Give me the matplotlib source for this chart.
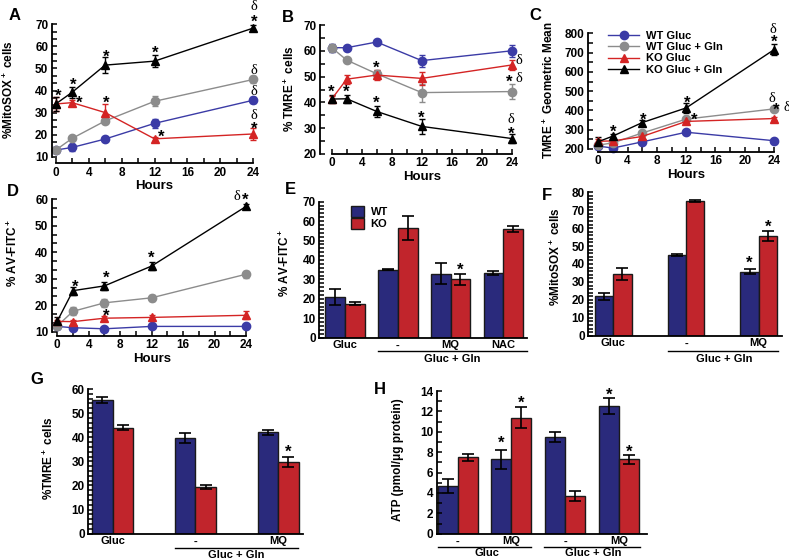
import numpy as np
import matplotlib
matplotlib.use("Agg")
import matplotlib.pyplot as plt
from matplotlib.ticker import MultipleLocator
from matplotlib.lines import Line2D

plt.rcParams['font.family'] = ['Liberation Sans', 'DejaVu Sans']
plt.rcParams['font.weight'] = 'bold'
plt.rcParams['axes.labelweight'] = 'bold'
plt.rcParams['mathtext.fontset'] = 'custom'
plt.rcParams['mathtext.rm'] = 'Liberation Sans:bold'
plt.rcParams['mathtext.bf'] = 'Liberation Sans:bold'
plt.rcParams['mathtext.default'] = 'bf'

W, H = 789, 560

# ---- data ----
hours = [0, 2, 6, 12, 24]
series = ["WT Gluc", "WT Gluc + Gln", "KO Gluc", "KO Gluc + Gln"]

# A: %MitoSOX+ cells
a_wt_gluc = [13.0, 14.2, 18.0, 25.1, 35.6]
a_wt_gluc_err = [0.8, 1.5, 1.0, 2.0, 1.3]
a_wt_gln = [13.0, 18.3, 26.2, 35.1, 45.0]
a_wt_gln_err = [0.6, 0.8, 1.0, 2.2, 1.5]
a_ko_gluc = [33.9, 34.5, 30.0, 18.1, 20.3]
a_ko_gluc_err = [3.0, 1.0, 4.0, 0.8, 2.7]
a_ko_gln = [33.9, 39.2, 51.5, 53.3, 68.3]
a_ko_gln_err = [3.0, 2.5, 3.5, 2.6, 1.4]

# B: % TMRE+ cells
b_wt_gluc = [61.2, 61.2, 63.4, 56.2, 60.0]
b_wt_gluc_err = [1.5, 0.8, 0.9, 2.3, 2.3]
b_wt_gln = [61.2, 56.4, 51.1, 43.8, 44.2]
b_wt_gln_err = [1.5, 0.8, 1.5, 3.5, 3.0]
b_ko_gluc = [41.3, 49.0, 50.6, 49.3, 54.5]
b_ko_gluc_err = [1.0, 1.8, 2.0, 2.5, 2.0]
b_ko_gln = [41.3, 41.4, 36.5, 30.7, 26.0]
b_ko_gln_err = [1.5, 1.5, 2.0, 3.0, 1.6]

# C: TMRE+ geometric mean
c_wt_gluc = [215, 205, 237, 287, 243]
c_wt_gluc_err = [8, 5, 8, 8, 10]
c_wt_gln = [220, 232, 283, 355, 408]
c_wt_gln_err = [8, 5, 8, 8, 8]
c_ko_gluc = [240, 242, 265, 343, 358]
c_ko_gluc_err = [10, 10, 12, 10, 10]
c_ko_gln = [238, 267, 337, 413, 715]
c_ko_gln_err = [25, 10, 15, 25, 30]

# D: % AV-FITC+
d_wt_gluc = [12.0, 11.5, 11.1, 12.0, 12.0]
d_wt_gluc_err = [0.8, 0.8, 0.6, 0.6, 0.6]
d_wt_gln = [12.2, 17.7, 20.9, 22.8, 31.7]
d_wt_gln_err = [1.0, 1.5, 1.5, 1.2, 1.3]
d_ko_gluc = [13.9, 13.8, 15.1, 15.4, 16.2]
d_ko_gluc_err = [0.5, 0.8, 0.8, 1.0, 1.5]
d_ko_gln = [14.0, 25.5, 27.3, 34.8, 57.3]
d_ko_gln_err = [1.5, 1.5, 1.6, 1.5, 0.8]

# E: % AV-FITC+ bars
e_labels = ["Gluc", "-", "MQ", "NAC"]
e_wt = [21.0, 35.0, 33.0, 33.3]
e_wt_err = [4.3, 0.4, 5.3, 1.0]
e_ko = [17.5, 56.5, 30.0, 56.0]
e_ko_err = [0.8, 6.0, 2.7, 1.4]

# F: %MitoSOX+ bars
f_labels = ["Gluc", "-", "MQ"]
f_wt = [22.0, 45.0, 35.7]
f_wt_err = [2.0, 0.7, 1.5]
f_ko = [34.5, 75.0, 55.5]
f_ko_err = [3.5, 0.5, 2.8]

# G: %TMRE+ bars
g_labels = ["Gluc", "-", "MQ"]
g_wt = [55.3, 39.8, 42.0]
g_wt_err = [1.2, 2.0, 1.1]
g_ko = [44.0, 19.5, 29.7]
g_ko_err = [1.2, 0.9, 2.0]

# H: ATP bars
h_labels = ["-", "MQ", "-", "MQ"]
h_wt = [4.7, 7.3, 9.5, 12.5]
h_wt_err = [0.7, 0.95, 0.5, 0.8]
h_ko = [7.5, 11.4, 3.7, 7.3]
h_ko_err = [0.35, 1.0, 0.5, 0.45]

line_colors = ["#3b3ba6", "#8c8c8c", "#d42424", "#000000"]
line_markers = ["o", "o", "^", "^"]
navy = "#2a2a7c"
red = "#c1252c"

TICK_FS = 8.5
LAB_FS = 8.5

fig = plt.figure(figsize=(W / 100, H / 100), dpi=100)


def panel(l, t, r, b):
    return fig.add_axes([l / W, 1 - b / H, (r - l) / W, (b - t) / H])


def ftext(px, py, s, **kw):
    fig.text(px / W, 1 - py / H, s, **kw)


def fline(x0, x1, py):
    fig.add_artist(Line2D([x0 / W, x1 / W], [1 - py / H, 1 - py / H],
                          transform=fig.transFigure, color="k", lw=1))


def ylab(ax, s, px, py):
    # px is where the centre of the rotated label should sit
    ax.set_ylabel(s, fontsize=LAB_FS)
    ax.yaxis.set_label_coords((px + 6) / W, 1 - py / H, transform=fig.transFigure)


def star(ax, x, y, fs=12):
    ax.annotate("*", (x, y), xytext=(0, -0.58 * fs), textcoords="offset points",
                ha="center", va="baseline", fontsize=fs, fontweight="bold",
                annotation_clip=False)


def delta(ax, x, y, fs=10.5):
    ax.annotate("\u03b4", (x, y), xytext=(0, -0.37 * fs), textcoords="offset points",
                ha="center", va="baseline", fontsize=fs, family="Liberation Serif",
                fontweight="normal", annotation_clip=False)


def style_axes(ax, ymajor, yminor, left_out, bottom_out):
    for s in ["top", "right"]:
        ax.spines[s].set_visible(False)
    ax.spines["left"].set_position(("outward", left_out * 0.72))
    ax.spines["bottom"].set_position(("outward", bottom_out * 0.72))
    ax.spines["left"].set_linewidth(1.3)
    ax.spines["bottom"].set_linewidth(1.3)
    ax.yaxis.set_major_locator(MultipleLocator(ymajor))
    ax.yaxis.set_minor_locator(MultipleLocator(yminor))
    ax.tick_params(which="both", direction="in", length=3.5, width=1.1,
                   labelsize=TICK_FS, pad=2.5)


def line_panel(ax, vals, errs, ylim, ymajor, yminor, left_out, bottom_out):
    for v, e, c, m in zip(vals, errs, line_colors, line_markers):
        ax.errorbar(hours, v, yerr=e, color=c, marker=m, ms=6, mec=c, lw=1,
                    elinewidth=1, capsize=2.5, capthick=1, clip_on=False)
    ax.set_xlim(0, 24)
    ax.set_ylim(*ylim)
    style_axes(ax, ymajor, yminor, left_out, bottom_out)
    ax.xaxis.set_major_locator(MultipleLocator(4))
    ax.xaxis.set_minor_locator(MultipleLocator(2))
    ax.spines["bottom"].set_bounds(0, 24)
    ax.spines["left"].set_bounds(*ylim)
    ax.set_xlabel("Hours", fontsize=9.5, labelpad=1)
    for lab in ax.get_xticklabels() + ax.get_yticklabels():
        lab.set_fontweight("bold")


def bar_panel(ax, labels, wt, wt_err, ko, ko_err, width, xlim, ylim, ymajor, yminor):
    x = np.arange(len(wt))
    ekw = dict(elinewidth=1.2, capthick=1.2, ecolor="k")
    ax.bar(x - width / 2, wt, width, yerr=wt_err, color=navy, edgecolor="#1a1a1a",
           lw=1, capsize=4, error_kw=ekw, label="WT")
    ax.bar(x + width / 2, ko, width, yerr=ko_err, color=red, edgecolor="#1a1a1a",
           lw=1, capsize=4, error_kw=ekw, label="KO")
    ax.set_xlim(*xlim)
    ax.set_ylim(*ylim)
    style_axes(ax, ymajor, yminor, 0, 0)
    ax.set_xticks(x, labels)
    ax.tick_params(axis="x", length=0, pad=2, labelsize=8)
    for lab in ax.get_xticklabels() + ax.get_yticklabels():
        lab.set_fontweight("bold")
    return x


# ---- A ----
axA = panel(55.7, 24.3, 253.3, 156.7)
line_panel(axA, [a_wt_gluc, a_wt_gln, a_ko_gluc, a_ko_gln],
           [a_wt_gluc_err, a_wt_gln_err, a_ko_gluc_err, a_ko_gln_err],
           (10, 70), 10, 10 / 3, 4, 6.6)
ylab(axA, "%MitoSOX$^+$ cells", 10, 90)
for x, y in [(0.3, 39.9), (2.1, 44.8), (2.9, 36.5), (6.1, 57.6), (6.1, 36.5),
             (12.1, 59.1), (12.8, 21.3), (24.1, 73.2), (24.1, 24.6)]:
    star(axA, x, y)
for x, y in [(24.1, 79.0), (24.1, 50.1), (24.1, 40.2), (24.1, 29.6)]:
    delta(axA, x, y)

# ---- B ----
axB = panel(331.7, 25, 511.7, 154)
line_panel(axB, [b_wt_gluc, b_wt_gln, b_ko_gluc, b_ko_gln],
           [b_wt_gluc_err, b_wt_gln_err, b_ko_gluc_err, b_ko_gln_err],
           (20, 70), 10, 5, 11.7, 0)
ylab(axB, "% TMRE$^+$ cells", 291, 89)
for x, y in [(-0.1, 45.9), (1.9, 45.9), (5.9, 55.4), (5.9, 41.6), (11.9, 36.0),
             (23.6, 50.0), (23.9, 29.6)]:
    star(axB, x, y)
for x, y in [(25.0, 57.1), (25.0, 50.0), (23.9, 34.2)]:
    delta(axB, x, y)

# ---- C ----
axC = panel(598.3, 33.3, 774, 149)
line_panel(axC, [c_wt_gluc, c_wt_gln, c_ko_gluc, c_ko_gln],
           [c_wt_gluc_err, c_wt_gln_err, c_ko_gluc_err, c_ko_gln_err],
           (200, 800), 100, 50, 10.6, 3)
ylab(axC, "TMRE$^+$ Geometric Mean", 550, 90)
for x, y in [(2.05, 316), (6.1, 376), (12.1, 463), (13.1, 376), (24.0, 778),
             (24.3, 428)]:
    star(axC, x, y)
for x, y in [(23.7, 474), (23.9, 832), (25.75, 426)]:
    delta(axC, x, y)
handles = [Line2D([], [], color=c, marker=m, ms=6, lw=1)
           for c, m in zip(line_colors, line_markers)]
axC.legend(handles, series, loc="upper left", bbox_to_anchor=(0.03, 1.06),
           frameon=False, fontsize=8, handlelength=2.8, labelspacing=0.12,
           handletextpad=0.6, borderaxespad=0)

# ---- D ----
axD = panel(57.3, 199.3, 246, 331.7)
line_panel(axD, [d_wt_gluc, d_wt_gln, d_ko_gluc, d_ko_gln],
           [d_wt_gluc_err, d_wt_gln_err, d_ko_gluc_err, d_ko_gln_err],
           (10, 60), 10, 10 / 3, 5.6, 4)
ylab(axD, "% AV-FITC$^+$", 14, 253)
for x, y in [(2.25, 28.9), (6.2, 32.0), (6.2, 17.6), (12.0, 39.6), (23.9, 61.6)]:
    star(axD, x, y)
delta(axD, 22.8, 61.8)

# ---- E ----
axE = panel(319.3, 201.7, 527, 337.7)
xe = bar_panel(axE, e_labels, e_wt, e_wt_err, e_ko, e_ko_err, 0.374,
               (-0.488, 3.45), (0, 70), 10, 2)
ylab(axE, "% AV-FITC$^+$", 286, 263)
star(axE, xe[2] + 0.187, 37.4)
axE.legend(loc="upper left", bbox_to_anchor=(0.13, 1.0), frameon=False,
           fontsize=8, handlelength=1.2, handleheight=1.1, labelspacing=0.1,
           handletextpad=0.6, borderaxespad=0)
fline(378, 527, 351)
ftext(452.7, 358.5, "Gluc + Gln", ha="center", va="center", fontsize=8)

# ---- F ----
axF = panel(588.3, 192.3, 782, 335.7)
xf = bar_panel(axF, f_labels, f_wt, f_wt_err, f_ko, f_ko_err, 0.252,
               (-0.344, 2.32), (0, 80), 10, 2)
ylab(axF, "%MitoSOX$^+$ cells", 557, 257)
star(axF, xf[2] - 0.126, 43.1)
star(axF, xf[2] + 0.126, 63.6)
fline(668.3, 778.3, 350.5)
ftext(724, 358.5, "Gluc + Gln", ha="center", va="center", fontsize=8)

# ---- G ----
axG = panel(88.3, 389, 303, 533.7)
xg = bar_panel(axG, g_labels, g_wt, g_wt_err, g_ko, g_ko_err, 0.246,
               (-0.294, 2.3), (0, 60), 10, 2)
ylab(axG, "%TMRE$^+$ cells", 50, 458)
star(axG, xg[2] + 0.123, 36.0)
fline(175, 298, 548)
ftext(236.5, 555, "Gluc + Gln", ha="center", va="center", fontsize=8)

# ---- H ----
axH = panel(436.7, 391, 646.7, 533.7)
xh = bar_panel(axH, h_labels, h_wt, h_wt_err, h_ko, h_ko_err, 0.373,
               (-0.388, 3.52), (0, 14), 2, 1)
ylab(axH, "ATP (pmol/\u03bcg protein)", 398, 460)
star(axH, xh[1] - 0.187, 9.36)
star(axH, xh[1] + 0.187, 13.3)
star(axH, xh[3] - 0.187, 14.1)
star(axH, xh[3] + 0.187, 8.5)
fline(437.7, 530.7, 547)
fline(544, 640, 547)
ftext(486.7, 553.5, "Gluc", ha="center", va="center", fontsize=8)
ftext(593.3, 553.5, "Gluc + Gln", ha="center", va="center", fontsize=8)

# panel letters
for px, py, s in [(15, 15, "A"), (288, 17, "B"), (535, 15, "C"), (13, 191, "D"),
                  (290, 189, "E"), (547, 195, "F"), (37, 380, "G"), (380, 390, "H")]:
    ftext(px, py, s, ha="center", va="center", fontsize=12, fontweight="bold")

fig.savefig("out.png", dpi=100)
